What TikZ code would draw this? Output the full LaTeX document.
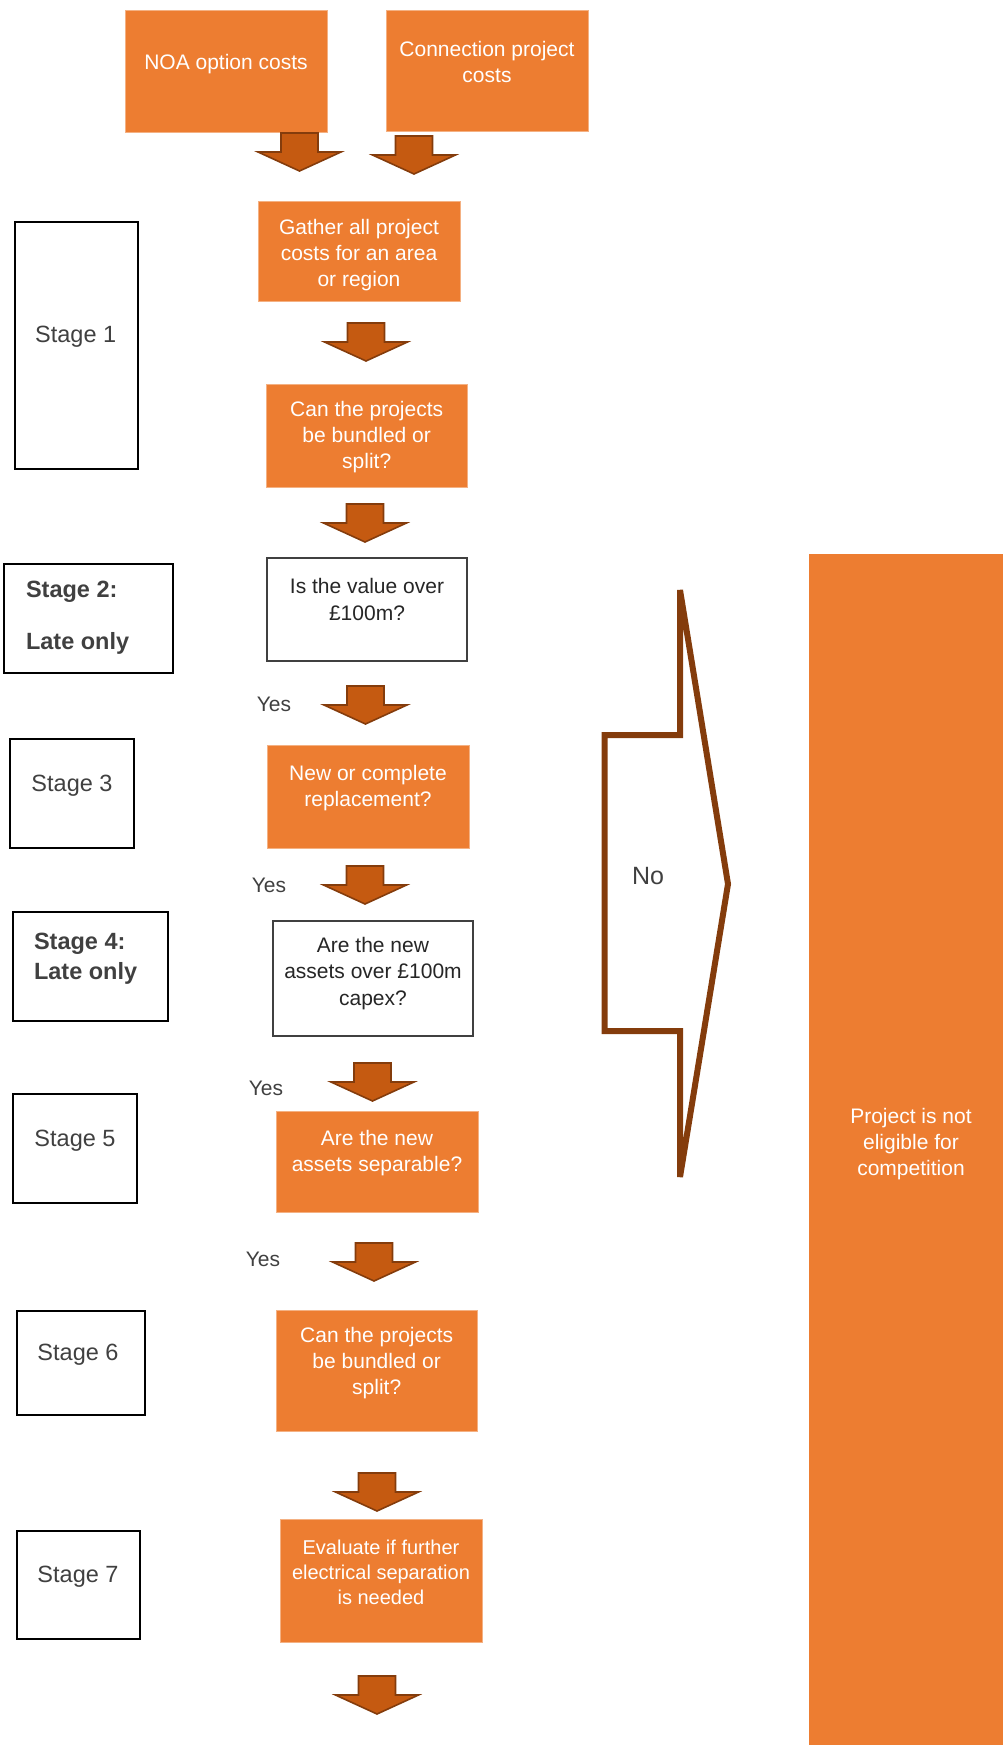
\documentclass[tikz,border=0pt]{standalone}
\usepackage{fontspec}
\setmainfont{Liberation Sans}
\definecolor{boxorange}{HTML}{ED7D31}
\definecolor{boxedge}{HTML}{F4B183}
\definecolor{arrowfill}{HTML}{C55A11}
\definecolor{arrowedge}{HTML}{843C0C}
\definecolor{qborder}{HTML}{404040}
\definecolor{txtdark}{HTML}{262626}
\definecolor{stagegray}{HTML}{404040}
\begin{document}
\begin{tikzpicture}[x=1pt,y=-1pt,
  every node/.style={inner sep=0pt, outer sep=0pt},
  obox/.style={rectangle, fill=boxorange, draw=boxedge, line width=0.8pt},
  qbox/.style={rectangle, fill=white, draw=qborder, line width=2.6pt},
  stagebox/.style={rectangle, draw=black, line width=2pt},
  wtxt/.style={text=white, align=center, font=\fontsize{21}{26}\selectfont, yshift=-2pt},
  dtxt/.style={text=txtdark, align=center, font=\fontsize{21}{26.5}\selectfont, yshift=-1.5pt},
  stxt/.style={text=stagegray, font=\fontsize{23.5}{29}\selectfont, yshift=-2.5pt},
  sbold/.style={text=stagegray, font=\fontsize{23.5}{29}\selectfont\bfseries, anchor=west, yshift=-2pt},
  ytxt/.style={text=stagegray, font=\fontsize{21}{25}\selectfont, yshift=-1pt},
  blockdown/.pic={
    \draw[fill=arrowfill, draw=arrowedge, line width=1.6pt, line join=miter]
      (-18.5,0) -- (18.5,0) -- (18.5,19) -- (41.5,19) -- (0,38)
      -- (-41.5,19) -- (-18.5,19) -- cycle;
  }
]
\useasboundingbox (0,0) rectangle (1003,1745);

% ---- input boxes ----
\node[obox, minimum width=202, minimum height=122] (noa) at (226,71) {};
\node[wtxt] (noat) at ([yshift=9]noa.center) {NOA option costs};
\node[obox, minimum width=202, minimum height=121] (conn) at (487,70.5) {};
\node[wtxt] (connt) at ([yshift=10.5]conn.center) {Connection project\\costs};

\pic (a1) at (299.5,133) {blockdown};
\pic (a2) at (414,136) {blockdown};

% ---- main flow ----
\node[obox, minimum width=202, minimum height=100] (gather) at (359,251.6) {};
\node[wtxt] (gathert) at ([yshift=-1.4]gather.center) {Gather all project\\costs for an area\\or region};

\pic (a3) at (366,323) {blockdown};

\node[obox, minimum width=201.5, minimum height=103.6] (can1) at (366.7,435.8) {};
\node[wtxt] (can1t) at ([yshift=0.8]can1.center) {Can the projects\\be bundled or\\split?};

\pic (a4) at (365,504) {blockdown};

\node[qbox, minimum width=200, minimum height=103] (value) at (367,609.5) {};
\node[dtxt] (valuet) at ([yshift=11.5]value.center) {Is the value over\\£100m?};

\pic (a5) at (365.5,686) {blockdown};
\node[ytxt] (y1) at (274,703) {Yes};

\node[obox, minimum width=202, minimum height=103] (newc) at (368,796.5) {};
\node[wtxt] (newct) at ([yshift=10.5]newc.center) {New or complete\\replacement?};

\pic (a6) at (365,866) {blockdown};
\node[ytxt] (y2) at (269,884) {Yes};

\node[qbox, minimum width=200, minimum height=115] (capex) at (373,978.5) {};
\node[dtxt] (capext) at ([yshift=6.5]capex.center) {Are the new\\assets over £100m\\capex?};

\pic (a7) at (372.5,1063) {blockdown};
\node[ytxt] (y3) at (266,1087) {Yes};

\node[obox, minimum width=202, minimum height=101] (sep) at (377,1161.5) {};
\node[wtxt] (sept) at ([yshift=10.5]sep.center) {Are the new\\assets separable?};

\pic (a8) at (374,1243) {blockdown};
\node[ytxt] (y4) at (263,1258) {Yes};

\node[obox, minimum width=201.5, minimum height=121.6] (can2) at (376.7,1370.8) {};
\node[wtxt] (can2t) at ([yshift=9.3]can2.center) {Can the projects\\be bundled or\\split?};

\pic (a9) at (377,1473) {blockdown};

\node[obox, minimum width=202, minimum height=123] (eval) at (381,1580.5) {};
\node[wtxt, font=\fontsize{20}{25}\selectfont] (evalt) at ([yshift=10.5]eval.center) {Evaluate if further\\electrical separation\\is needed};

\pic (a10) at (377,1676) {blockdown};

% ---- stage labels ----
\node[stagebox, minimum width=123.5, minimum height=247.2] (s1) at (76.25,345.1) {};
\node[stxt] (s1t) at (75.7,334) {Stage 1};

\node[stagebox, minimum width=169, minimum height=109] (s2) at (88.5,618.5) {};
\node[sbold] (s2a) at (26,590) {Stage 2:};
\node[sbold] (s2b) at (26,641) {Late only};

\node[stagebox, minimum width=123.6, minimum height=109] (s3) at (71.8,793.5) {};
\node[stxt] (s3t) at (72,783) {Stage 3};

\node[stagebox, minimum width=155, minimum height=109] (s4) at (90.5,966.5) {};
\node[sbold] (s4a) at (34,942) {Stage 4:};
\node[sbold] (s4b) at (34,971) {Late only};

\node[stagebox, minimum width=124, minimum height=109] (s5) at (75,1148.5) {};
\node[stxt] (s5t) at (75,1138) {Stage 5};

\node[stagebox, minimum width=128, minimum height=104] (s6) at (80.7,1363) {};
\node[stxt] (s6t) at (78,1352.5) {Stage 6};

\node[stagebox, minimum width=123.3, minimum height=108] (s7) at (78.3,1584.6) {};
\node[stxt] (s7t) at (78,1574) {Stage 7};

% ---- "No" outcome ----
\draw[draw=arrowedge, line width=6pt, line join=miter]
  (680,590) -- (680,735) -- (604.5,735) -- (604.5,1031) -- (680,1031)
  -- (680,1177) -- (728,884) -- cycle;
\node[text=stagegray, font=\fontsize{25}{30}\selectfont] (no) at (648,876) {No};

\node[rectangle, fill=boxorange, minimum width=194, minimum height=1191] (ne) at (906,1149.5) {};
\node[wtxt] (net) at (911,1142) {Project is not\\eligible for\\competition};

\end{tikzpicture}
\end{document}
